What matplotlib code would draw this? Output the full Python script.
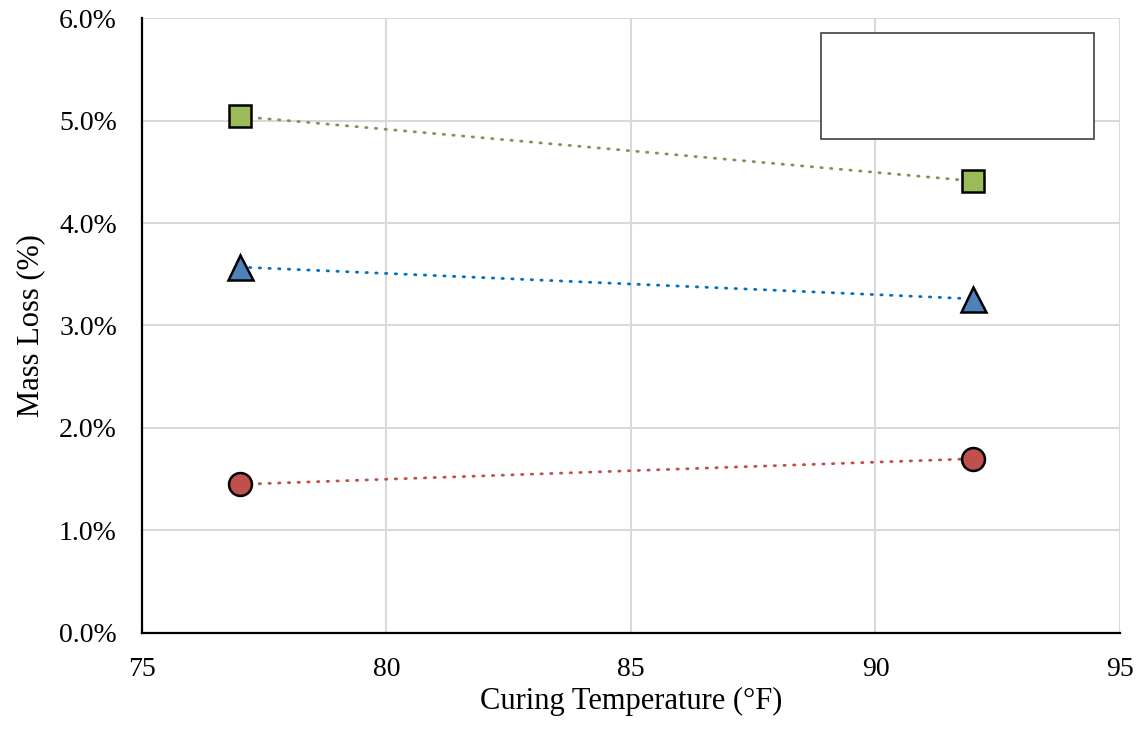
import matplotlib.pyplot as plt
from matplotlib.patches import Rectangle
from matplotlib.ticker import PercentFormatter

plt.rcParams['font.family'] = ['Liberation Serif', 'DejaVu Serif']

# curing temperature (F)
temps = [77, 92]

# mass loss (%) per series
loss_square = [5.04, 4.41]
loss_triangle = [3.57, 3.26]
loss_circle = [1.45, 1.70]

fig = plt.figure(figsize=(11.42, 7.29), dpi=100)
ax = fig.add_axes([0.1243, 0.1317, 0.8564, 0.8436])

dots = (0, (0.5, 3))
ax.plot(temps, loss_square, color='#948A54', lw=2.0, ls=dots, dash_capstyle='round',
        marker='s', ms=16, mfc='#9BBB59', mec='black', mew=1.8, zorder=3)
ax.plot(temps, loss_triangle, color='#0070C0', lw=2.0, ls=dots, dash_capstyle='round',
        marker='^', ms=18, mfc='#4F81BD', mec='black', mew=1.8, zorder=3)
ax.plot(temps, loss_circle, color='#C0504D', lw=2.0, ls=dots, dash_capstyle='round',
        marker='o', ms=16.5, mfc='#C0504D', mec='black', mew=1.8, zorder=3)

ax.set_xlim(75, 95)
ax.set_ylim(0, 6)
ax.set_xticks([75, 80, 85, 90, 95])
ax.set_yticks([0, 1, 2, 3, 4, 5, 6])
ax.yaxis.set_major_formatter(PercentFormatter(decimals=1))
ax.grid(True, color='#D9D9D9', lw=1.5)
ax.set_axisbelow(True)
ax.tick_params(length=0, labelsize=20)
ax.tick_params(axis='x', pad=17)
ax.tick_params(axis='y', pad=18)
ax.set_xlabel('Curing Temperature (°F)', fontsize=22, labelpad=4)
ax.set_ylabel('Mass Loss (%)', fontsize=22, labelpad=10)

for s in ['top', 'right']:
    ax.spines[s].set_visible(False)
for s in ['left', 'bottom']:
    ax.spines[s].set_linewidth(1.6)
    ax.spines[s].set_zorder(4)

# empty legend box
ax.add_patch(Rectangle((0.694, 0.804), 0.279, 0.172, transform=ax.transAxes,
                       facecolor='white', edgecolor='#404040', lw=1.2, zorder=5))

fig.savefig('out.png', dpi=100)
